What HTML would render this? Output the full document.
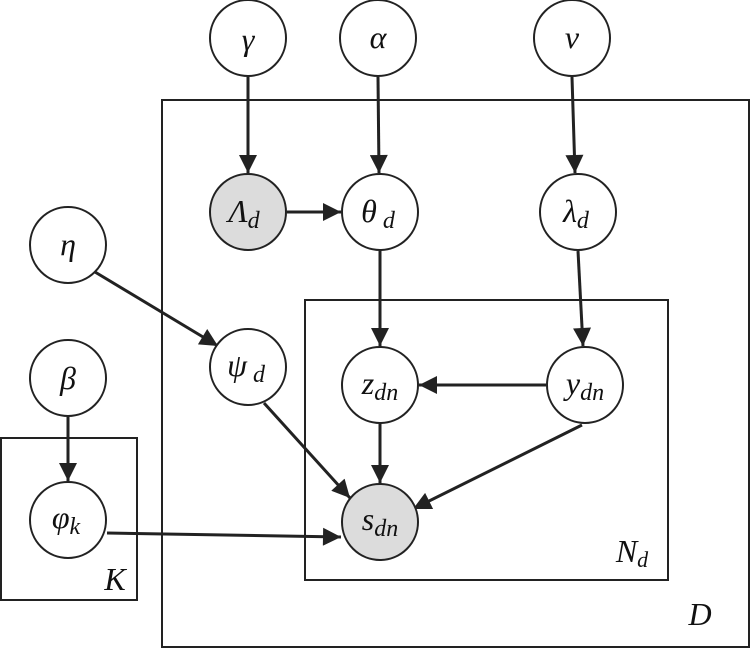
<!DOCTYPE html>
<html><head><meta charset="utf-8"><style>body{margin:0;background:#fff}svg{display:block}</style></head><body>
<svg width="752" height="649" viewBox="0 0 752 649" xmlns="http://www.w3.org/2000/svg" font-family="Liberation Serif, serif" font-style="italic">
<defs>
<marker id="b" viewBox="0 0 10 10" markerWidth="20" markerHeight="18" refX="10" refY="5" orient="auto" markerUnits="userSpaceOnUse"><path d="M0,0 L10,5 L0,10 z" fill="#222"/></marker></defs>
<g fill="none" stroke="#222" stroke-width="2">
<rect x="162" y="100" width="587" height="547"/>
<rect x="305" y="300" width="363" height="280"/>
<rect x="1" y="438" width="136" height="162"/>
</g>
<g stroke="#222" stroke-width="3" marker-end="url(#b)">
<line x1="248" y1="77" x2="248" y2="173"/>
<line x1="378" y1="77" x2="379" y2="173"/>
<line x1="572" y1="77" x2="575" y2="173"/>
<line x1="287" y1="212" x2="341" y2="212"/>
<line x1="380" y1="251" x2="380" y2="346"/>
<line x1="578" y1="251" x2="583" y2="346"/>
<line x1="95" y1="272" x2="218" y2="346"/>
<line x1="68" y1="417" x2="68" y2="481"/>
<line x1="546" y1="385" x2="419" y2="385"/>
<line x1="380" y1="424" x2="380" y2="483"/>
<line x1="264" y1="403" x2="350" y2="498"/>
<line x1="582" y1="425" x2="413" y2="509"/>
<line x1="107" y1="533" x2="341" y2="537"/>
</g>
<g stroke="#222" stroke-width="2" fill="#fff">
<circle cx="248" cy="38" r="38"/><circle cx="378" cy="38" r="38"/><circle cx="572" cy="38" r="38"/>
<circle cx="248" cy="212" r="38" fill="#dcdcdc"/><circle cx="380" cy="212" r="38"/><circle cx="578" cy="212" r="38"/>
<circle cx="68" cy="245" r="38"/><circle cx="68" cy="378" r="38"/>
<circle cx="248" cy="367" r="38"/><circle cx="380" cy="385" r="38"/><circle cx="585" cy="385" r="38"/>
<circle cx="68" cy="520" r="38"/><circle cx="380" cy="522" r="38" fill="#dcdcdc"/>
</g>
<g font-size="32" fill="#111" text-anchor="middle">
<text x="248" y="50">γ</text><text x="378" y="48">α</text><text x="572" y="48">ν</text>
<text x="244" y="222">Λ<tspan font-size="24" dy="6">d</tspan></text>
<text x="378" y="222">θ<tspan font-size="24" dy="6"> d</tspan></text>
<text x="576" y="222">λ<tspan font-size="24" dy="6">d</tspan></text>
<text x="68" y="255">η</text><text x="68" y="389">β</text>
<text x="246" y="376">ψ<tspan font-size="24" dy="6"> d</tspan></text>
<text x="380" y="394">z<tspan font-size="24" dy="6">dn</tspan></text>
<text x="585" y="394">y<tspan font-size="24" dy="6">dn</tspan></text>
<text x="66" y="528">φ<tspan font-size="24" dy="6">k</tspan></text>
<text x="380" y="530">s<tspan font-size="24" dy="6">dn</tspan></text>
<text x="632" y="562">N<tspan font-size="22" dy="5">d</tspan></text>
<text x="115" y="590">K</text>
<text x="700" y="625">D</text>
</g>
</svg>
</body></html>
